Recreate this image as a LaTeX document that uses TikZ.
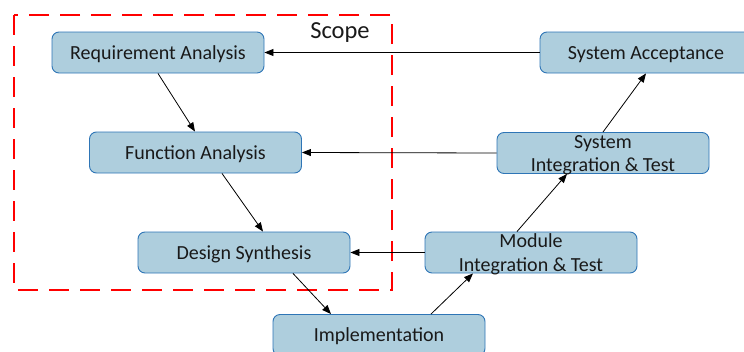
\documentclass[tikz,border=0pt]{standalone}
\usepackage{fontspec}
\setmainfont{Carlito}
\usetikzlibrary{arrows.meta}
\definecolor{boxfill}{HTML}{AECEDD}
\definecolor{boxline}{HTML}{2E75B6}
\definecolor{scopered}{HTML}{FF0000}
\newcommand{\stageone}[1]{\raisebox{0pt}[13.6pt][0pt]{#1}}
\newcommand{\stagetwo}[2]{\raisebox{0pt}[37.2pt][0pt]{\begin{tabular}[b]{@{}c@{}}#1\\#2\end{tabular}}}
\tikzset{
  stage/.style={draw=boxline, fill=boxfill, line width=0.9pt, rounded corners=7pt,
    minimum width=212pt, minimum height=41pt, inner sep=0pt, font=\fontsize{20}{23.5}\selectfont,
    text=black!90},
  flow/.style={draw=black, line width=0.8pt, -{Triangle[length=9pt,width=7pt]}},
  scopebox/.style={draw=scopered, line width=2.6pt, dash pattern=on 20pt off 11pt}
}
\begin{document}
\begin{tikzpicture}[x=1pt,y=-1pt]
\useasboundingbox (0,0) rectangle (744,351);
\draw[scopebox] (14,15) rectangle (392,290);
\node[font=\fontsize{24.5}{28}\selectfont, text=black!90] (scope) at (340,33) {Scope};
\node[stage] (req) at (158,52.5) {\stageone{Requirement Analysis}};
\node[stage] (fun) at (195.5,152.5) {\stageone{Function Analysis}};
\node[stage] (des) at (244,252.5) {\stageone{Design Synthesis}};
\node[stage] (imp) at (379,335) {\stageone{Implementation}};
\node[stage] (mod) at (531,252.5) {\stagetwo{Module}{Integration \& Test}};
\node[stage] (sit) at (603,153) {\stagetwo{System}{Integration \& Test}};
\node[stage] (acc) at (646,52.5) {\stageone{System Acceptance}};
\draw[flow] (acc.west) -- (req.east);
\draw[flow] (sit.west) -- (fun.east);
\draw[flow] (mod.west) -- (des.east);
\draw[flow] (req.south -| 158,0) -- (fun.north -| 195,0);
\draw[flow] (fun.south -| 222,0) -- (des.north -| 263,0);
\draw[flow] (des.south -| 293,0) -- (imp.north -| 331,0);
\draw[flow] (imp.north -| 431,0) -- (mod.south -| 473,0);
\draw[flow] (mod.north -| 517,0) -- (sit.south -| 567,0);
\draw[flow] (sit.north -| 603,0) -- (acc.south -| 646,0);
\end{tikzpicture}
\end{document}
